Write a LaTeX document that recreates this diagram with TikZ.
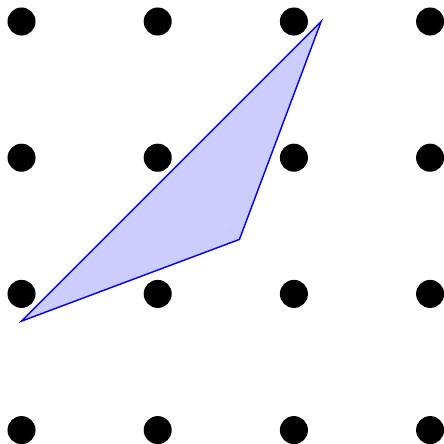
\documentclass[tikz,border=0pt]{standalone}
\tikzset{
    punkt/.style={circle, fill, inner sep=0pt, minimum size=2.06mm},
    flaeche/.style={draw=blue, fill=blue!20, line width=0.3pt, line join=miter}
}
\begin{document}
\begin{tikzpicture}
        \useasboundingbox (-0.158,-0.102) rectangle (3.102,3.158);
        \foreach \i in {0,...,3}
            \foreach \j in {0,...,3}
                \path node[punkt] (p\i\j) at (\i,\j) {};
        \coordinate (A) at (0,0.8);
        \coordinate (B) at (2.2,3);
        \coordinate (C) at (1.6,1.4);
        \filldraw[flaeche] (A) -- (B) -- (C) -- cycle;
    \end{tikzpicture}
\end{document}
